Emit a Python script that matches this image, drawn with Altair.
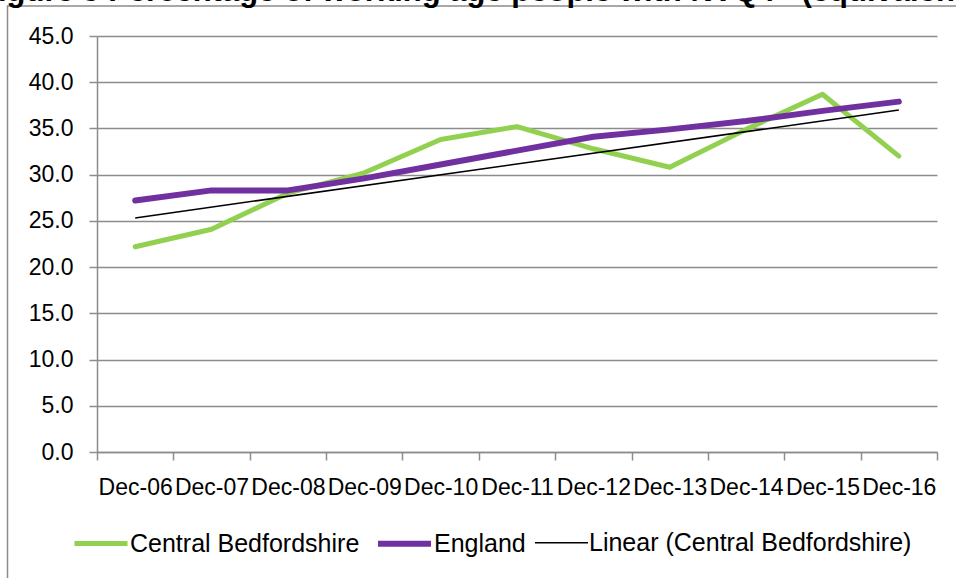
import json
import altair as alt
import pandas as pd

# Periods (annual, December) and the two series, in percent
periods = ["Dec-06", "Dec-07", "Dec-08", "Dec-09", "Dec-10", "Dec-11",
           "Dec-12", "Dec-13", "Dec-14", "Dec-15", "Dec-16"]
central_beds = [22.2, 24.1, 28.0, 30.2, 33.8, 35.2, 32.8, 30.8, 34.9, 38.7, 32.0]
england = [27.2, 28.3, 28.3, 29.6, 31.1, 32.6, 34.1, 34.9, 35.8, 36.9, 37.9]

series_names = ["Central Bedfordshire", "England", "Linear (Central Bedfordshire)"]
series_colors = ["#92D050", "#7030A0", "#000000"]
series_widths = [5, 6, 1.5]

title_text = "Figure 5 Percentage of working age people with NVQ4+ (equivalent)"

FONT = "Liberation Sans"
GRID = "#8c8c8c"

rows = []
for i, p in enumerate(periods):
    rows.append({"period": p, "idx": i, "series": series_names[0], "value": central_beds[i]})
    rows.append({"period": p, "idx": i, "series": series_names[1], "value": england[i]})
df = pd.DataFrame(rows)

x_enc = alt.X(
    "period:N",
    sort=periods,
    scale=alt.Scale(domain=periods, paddingInner=0, paddingOuter=0),
    axis=alt.Axis(
        title=None, labelAngle=0, tickBand="extent", grid=False,
        labelFont=FONT, labelFontSize=23, labelColor="black",
        labelPadding=16, tickSize=8, tickColor=GRID, tickWidth=1.5,
        domainColor=GRID, domainWidth=1.5, labelOverlap=False,
    ),
)
y_enc = alt.Y(
    "value:Q",
    scale=alt.Scale(domain=[0, 45], nice=False),
    axis=alt.Axis(
        title=None, values=list(range(0, 50, 5)), format=".1f",
        labelFont=FONT, labelFontSize=23, labelColor="black",
        labelPadding=16, tickSize=8, tickColor=GRID, tickWidth=1.5,
        domainColor=GRID, domainWidth=1.5,
        grid=True, gridColor=GRID, gridWidth=1.5,
    ),
)

legend_opts = dict(
    title=None, orient="none", legendX=-25, legendY=478,
    direction="horizontal", columnPadding=6, labelOffset=0,
    labelFont=FONT, labelFontSize=25, labelColor="black", labelLimit=500,
    symbolType="stroke", symbolSize=2809, padding=0,
)
color_enc = alt.Color(
    "series:N",
    scale=alt.Scale(domain=series_names, range=series_colors),
    legend=alt.Legend(**legend_opts),
)
width_enc = alt.StrokeWidth(
    "series:N",
    scale=alt.Scale(type="ordinal", domain=series_names, range=series_widths),
    legend=alt.Legend(**legend_opts),
)

lines = alt.Chart(df).mark_line(strokeCap="round", strokeJoin="round").encode(
    x=x_enc, y=y_enc, color=color_enc, strokeWidth=width_enc,
)

# Least-squares trend of the Central Bedfordshire series
period_lookup = json.dumps(periods)
trend = alt.Chart(df).transform_filter(
    alt.datum.series == series_names[0]
).transform_regression(
    "idx", "value", method="linear", extent=[0, len(periods) - 1]
).transform_calculate(
    period=f"{period_lookup}[round(datum.idx)]",
    series=f"'{series_names[2]}'",
).mark_line().encode(
    x=x_enc, y=y_enc, color=color_enc, strokeWidth=width_enc,
)

one = alt.Data(values=[{}])

frame = alt.Chart(one).mark_rect(
    fillOpacity=0, stroke=GRID, strokeWidth=1.5
).encode(
    x=alt.value(-89.5), x2=alt.value(900), y=alt.value(-30), y2=alt.value(600),
)

title = alt.Chart(one).mark_text(
    align="left", baseline="alphabetic", font=FONT, fontSize=31,
    fontWeight="bold", color="black",
).encode(
    x=alt.value(-118), y=alt.value(-35), text=alt.value(title_text),
)

chart = alt.layer(frame, title, lines, trend).properties(
    width=840, height=416,
    padding={"left": 97, "top": 36, "right": 19, "bottom": 126},
    autosize=alt.AutoSizeParams(type="none"),
).configure_view(stroke=None)

chart.save("out.html", embed_options={"renderer": "svg", "actions": False})
